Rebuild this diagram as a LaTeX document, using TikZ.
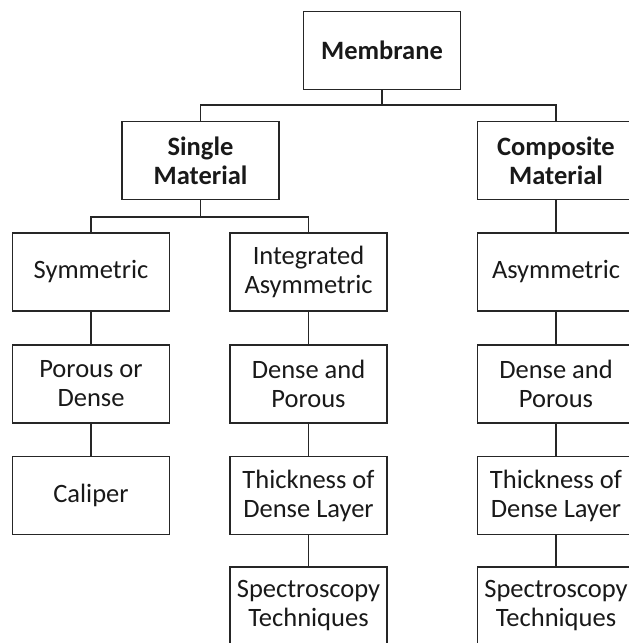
\documentclass[tikz,border=0pt]{standalone}
\usepackage{fontspec}
\setmainfont{Carlito}
\begin{document}
\begin{tikzpicture}[x=1pt,y=-1pt,
  box/.style={draw=black!85, line width=1.2pt, minimum width=157pt, minimum height=78pt, inner sep=0pt, align=center, font=\fontsize{26.5}{29}\selectfont, text=black!90},
  boldbox/.style={box, font=\fontsize{26.5}{29}\selectfont\bfseries},
  link/.style={draw=black!85, line width=1.2pt}]
\useasboundingbox (0,0) rectangle (629,643);
\clip (0,0) rectangle (629,643);
\node[boldbox] (mem) at (382,50.5) {Membrane};
\node[boldbox] (single) at (200.5,160.5) {Single\\Material};
\node[boldbox] (comp) at (556,160.5) {Composite\\Material};
\node[box] (sym) at (91,272) {Symmetric};
\node[box] (intg) at (308.5,272) {Integrated\\Asymmetric};
\node[box] (asym) at (556,272) {Asymmetric};
\node[box] (pod) at (91,384) {Porous or\\Dense};
\node[box] (dp1) at (308.5,384) {Dense and\\Porous};
\node[box] (dp2) at (556,384) {Dense and\\Porous};
\node[box] (cal) at (91,495.5) {Caliper};
\node[box] (th1) at (308.5,495.5) {Thickness of\\Dense Layer};
\node[box] (th2) at (556,495.5) {Thickness of\\Dense Layer};
\node[box] (sp1) at (308.5,606) {Spectroscopy\\Techniques};
\node[box] (sp2) at (556,606) {Spectroscopy\\Techniques};
\coordinate (b1) at (382,105);
\coordinate (b2) at (200.5,217);
\path[link] (mem.south) -- (b1) -| (single.north);
\path[link] (b1) -| (comp.north);
\path[link] (single.south) -- (b2) -| (sym.north);
\path[link] (b2) -| (intg.north);
\path[link] (comp.south) -- (asym.north);
\path[link] (sym.south) -- (pod.north);
\path[link] (pod.south) -- (cal.north);
\path[link] (intg.south) -- (dp1.north);
\path[link] (dp1.south) -- (th1.north);
\path[link] (th1.south) -- (sp1.north);
\path[link] (asym.south) -- (dp2.north);
\path[link] (dp2.south) -- (th2.north);
\path[link] (th2.south) -- (sp2.north);
\end{tikzpicture}
\end{document}
